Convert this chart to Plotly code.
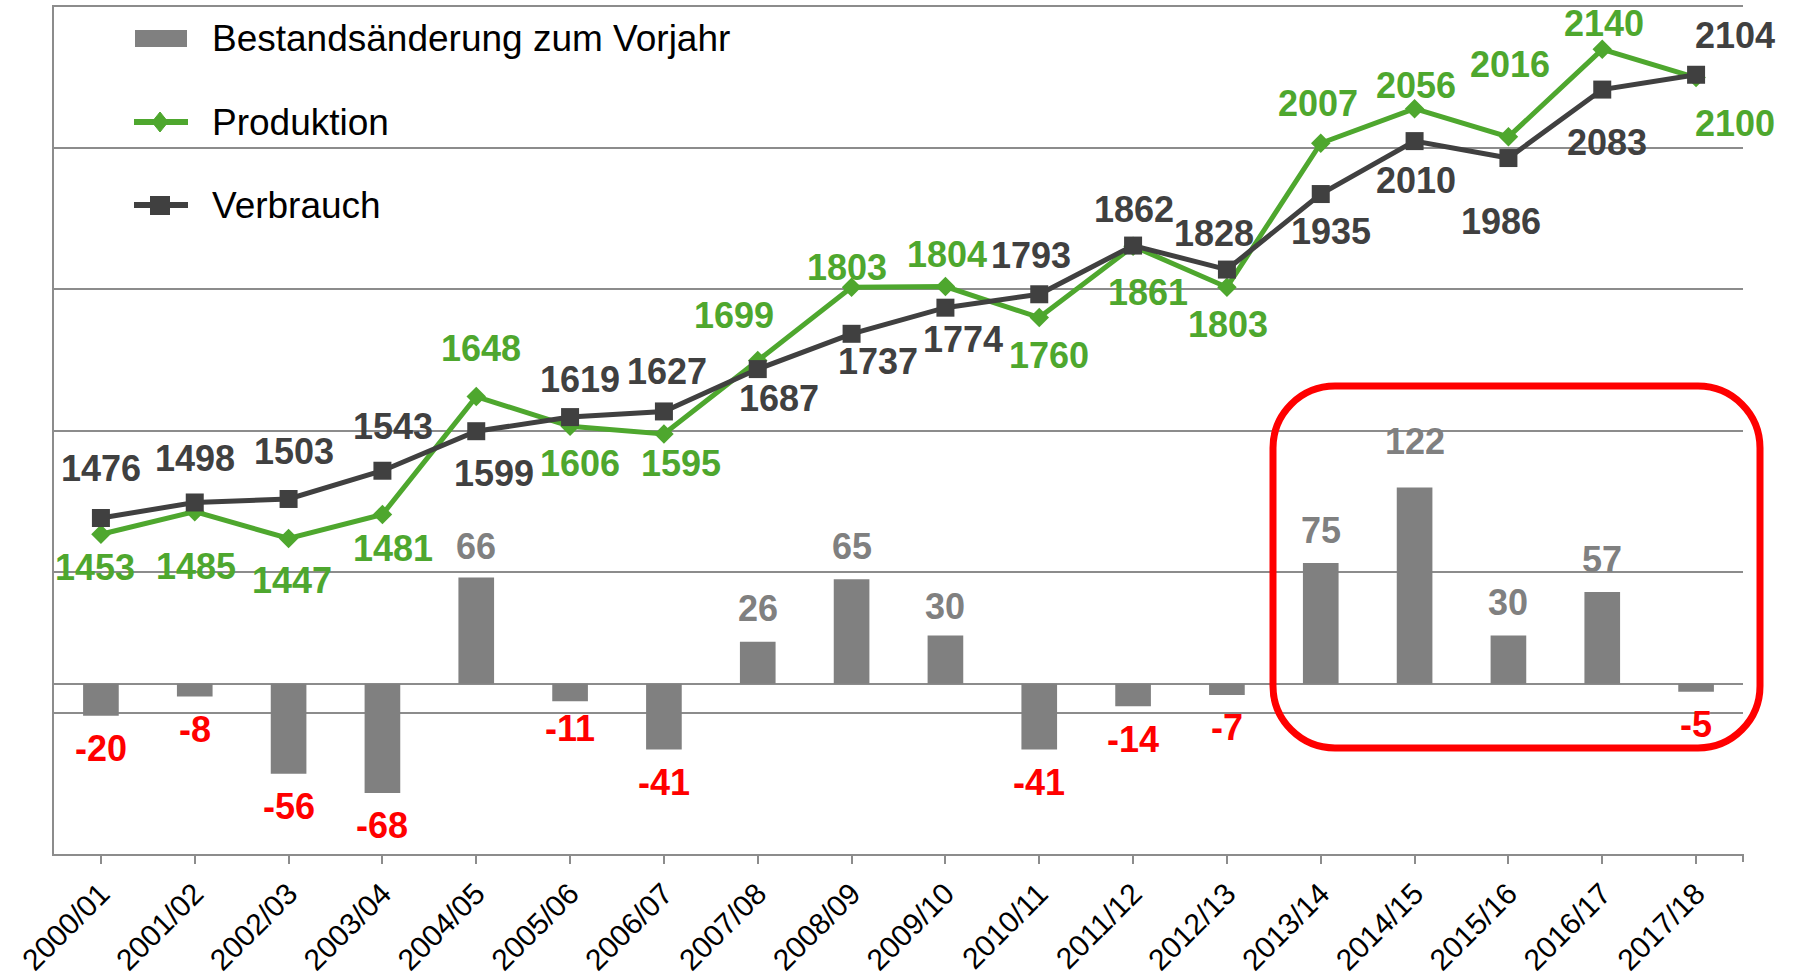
import plotly.graph_objects as go

# ---------------- data ----------------
categories = ["2000/01", "2001/02", "2002/03", "2003/04", "2004/05", "2005/06",
              "2006/07", "2007/08", "2008/09", "2009/10", "2010/11", "2011/12",
              "2012/13", "2013/14", "2014/15", "2015/16", "2016/17", "2017/18"]
produktion = [1453, 1485, 1447, 1481, 1648, 1606, 1595, 1699, 1803, 1804,
              1760, 1861, 1803, 2007, 2056, 2016, 2140, 2100]
verbrauch = [1476, 1498, 1503, 1543, 1599, 1619, 1627, 1687, 1737, 1774,
             1793, 1862, 1828, 1935, 2010, 1986, 2083, 2104]
bestand = [-20, -8, -56, -68, 66, -11, -41, 26, 65, 30,
           -41, -14, -7, 75, 122, 30, 57, -5]
series_names = ["Bestandsänderung zum Vorjahr", "Produktion", "Verbrauch"]

# ---------------- label offsets (pixels, style only) ----------------
verb_dx = [0, 0, 5, 11, 18, 10, 3, 21, 26, 18, -8, 1, -13, 10, 1, -7, 5, 39]
verb_dy = [50, 44, 47, 44, -42, 38, 40, -29, -28, -32, 39, 36, 36, -37, -39, -63, -53, 39]
prod_dx = [-6, 1, 3, 11, 5, 10, 17, -24, -5, 2, 10, 15, 1, -3, 1, 2, 2, 39]
prod_dy = [-33, -55, -42, -34, 48, -37, -29, 45, 20, 32, -38, -46, -37, 40, 23, 72, 26, -46]
bar_gap = [33, 33, 33, 33, 31, 27, 33, 33, 33, 29, 33, 33, 33, 33, 46, 33, 33, 33]

FONT = "Arial, Liberation Sans, sans-serif"
GREEN = "#4EA72E"
DARK = "#404040"
GRAY = "#808080"
RED = "#FF0000"
GRID = "#8C8C8C"

W, H = 1798, 980
ML, MR, MT, MB = 54, 55, 7, 126
PW, PH = W - ML - MR, H - MT - MB

fig = go.Figure()
fig.add_trace(go.Bar(
    x=categories, y=bestand, name=series_names[0],
    marker=dict(color=GRAY, line=dict(width=0)), width=0.38,
    yaxis="y", showlegend=False))
fig.add_trace(go.Scatter(
    x=categories, y=produktion, name=series_names[1], mode="lines+markers",
    line=dict(color=GREEN, width=5),
    marker=dict(symbol="diamond", size=15, color=GREEN),
    yaxis="y2", showlegend=False))
fig.add_trace(go.Scatter(
    x=categories, y=verbrauch, name=series_names[2], mode="lines+markers",
    line=dict(color=DARK, width=5),
    marker=dict(symbol="square", size=18, color=DARK),
    yaxis="y2", showlegend=False))

annotations = []
for i, c in enumerate(categories):
    annotations.append(dict(
        x=c, y=verbrauch[i], xref="x", yref="y2", text=str(verbrauch[i]),
        showarrow=False, xshift=verb_dx[i], yshift=verb_dy[i],
        font=dict(family=FONT, size=36, color=DARK, weight="bold")))
    annotations.append(dict(
        x=c, y=produktion[i], xref="x", yref="y2", text=str(produktion[i]),
        showarrow=False, xshift=prod_dx[i], yshift=prod_dy[i],
        font=dict(family=FONT, size=36, color=GREEN, weight="bold")))
    v = bestand[i]
    annotations.append(dict(
        x=c, y=v, xref="x", yref="y", text=str(v),
        showarrow=False, yshift=bar_gap[i] if v >= 0 else -bar_gap[i],
        font=dict(family=FONT, size=36, color=GRAY if v >= 0 else RED, weight="bold")))

# ---------------- manual legend (pixel positions relative to plot top-left) ----------------
leg_rows_y = [38, 122, 205]          # row centres (figure px)
leg_sym_x0, leg_sym_x1, leg_sym_cx = 134, 188, 160
leg_text_x = 210
shapes = []


def px(x):
    return x - ML


def py(y):
    return MT - y


for name, yc in zip(series_names, leg_rows_y):
    annotations.append(dict(
        x=0, y=1, xref="paper", yref="paper", xanchor="left", yanchor="middle",
        xshift=px(leg_text_x), yshift=py(yc), text=name, showarrow=False,
        font=dict(family=FONT, size=37, color="black")))

common = dict(xref="paper", yref="paper", xsizemode="pixel", ysizemode="pixel",
              xanchor=0, yanchor=1)
# bar swatch
shapes.append(dict(type="rect", x0=px(135), x1=px(187), y0=py(leg_rows_y[0] - 8),
                   y1=py(leg_rows_y[0] + 9), fillcolor=GRAY, line=dict(width=0),
                   **common))
# Produktion line + diamond
yc = leg_rows_y[1]
shapes.append(dict(type="line", x0=px(leg_sym_x0), x1=px(leg_sym_x1), y0=py(yc), y1=py(yc),
                   line=dict(color=GREEN, width=6), **common))
cx, cy = px(leg_sym_cx), py(yc)
shapes.append(dict(type="path",
                   path=f"M {cx},{cy+10} L {cx+8},{cy} L {cx},{cy-10} L {cx-8},{cy} Z",
                   fillcolor=GREEN, line=dict(color=GREEN, width=1), **common))
# Verbrauch line + square
yc = leg_rows_y[2]
shapes.append(dict(type="line", x0=px(leg_sym_x0), x1=px(leg_sym_x1), y0=py(yc), y1=py(yc),
                   line=dict(color=DARK, width=6), **common))
shapes.append(dict(type="rect", x0=px(leg_sym_cx - 10), x1=px(leg_sym_cx + 10),
                   y0=py(yc - 9), y1=py(yc + 10), fillcolor=DARK, line=dict(width=0),
                   **common))

# closing tick at the right end of the category axis
shapes.append(dict(type="line", xref="paper", yref="paper", ysizemode="pixel", yanchor=0,
                   x0=1, x1=1, y0=0, y1=-8, line=dict(color=GRID, width=2)))

# ---------------- rounded red highlight box (paper coordinates) ----------------
bx0, bx1 = (1273 - ML) / PW, (1760 - ML) / PW
by0, by1 = (MT + PH - 748) / PH, (MT + PH - 386) / PH
rx, ry = 62 / PW, 62 / PH
k = 0.5523
path = (
    f"M {bx0+rx},{by1} L {bx1-rx},{by1} "
    f"C {bx1-rx+k*rx},{by1} {bx1},{by1-ry+k*ry} {bx1},{by1-ry} "
    f"L {bx1},{by0+ry} "
    f"C {bx1},{by0+ry-k*ry} {bx1-rx+k*rx},{by0} {bx1-rx},{by0} "
    f"L {bx0+rx},{by0} "
    f"C {bx0+rx-k*rx},{by0} {bx0},{by0+ry-k*ry} {bx0},{by0+ry} "
    f"L {bx0},{by1-ry} "
    f"C {bx0},{by1-ry+k*ry} {bx0+rx-k*rx},{by1} {bx0+rx},{by1} Z"
)
shapes.append(dict(type="path", path=path, xref="paper", yref="paper",
                   line=dict(color=RED, width=7), fillcolor="rgba(0,0,0,0)",
                   layer="above"))

fig.update_layout(
    width=W, height=H,
    margin=dict(l=ML, r=MR, t=MT, b=MB, pad=0, autoexpand=False),
    paper_bgcolor="white", plot_bgcolor="white",
    font=dict(family=FONT, color="black"),
    showlegend=False,
    xaxis=dict(
        type="category", range=[-0.5, 17.5], showgrid=False,
        showline=True, mirror=True, linecolor=GRID, linewidth=2,
        ticks="outside", ticklen=8, tickwidth=2, tickcolor=GRID,
        tickangle=-45, tickfont=dict(family=FONT, size=30, color="black")),
    yaxis=dict(
        range=[-106, 421], showgrid=False, showticklabels=False, ticks="",
        zeroline=True, zerolinecolor=GRID, zerolinewidth=2,
        showline=True, linecolor=GRID, linewidth=2),
    yaxis2=dict(
        overlaying="y", side="left", range=[1000, 2200], dtick=200, tick0=1000,
        showgrid=True, gridcolor=GRID, gridwidth=2,
        showticklabels=False, ticks="", zeroline=False, showline=False),
    annotations=annotations,
    shapes=shapes,
)

fig.write_html(
    "out.html",
    config={"displayModeBar": False},
    post_script="document.body.style.margin='0px';document.body.style.padding='0px';")
